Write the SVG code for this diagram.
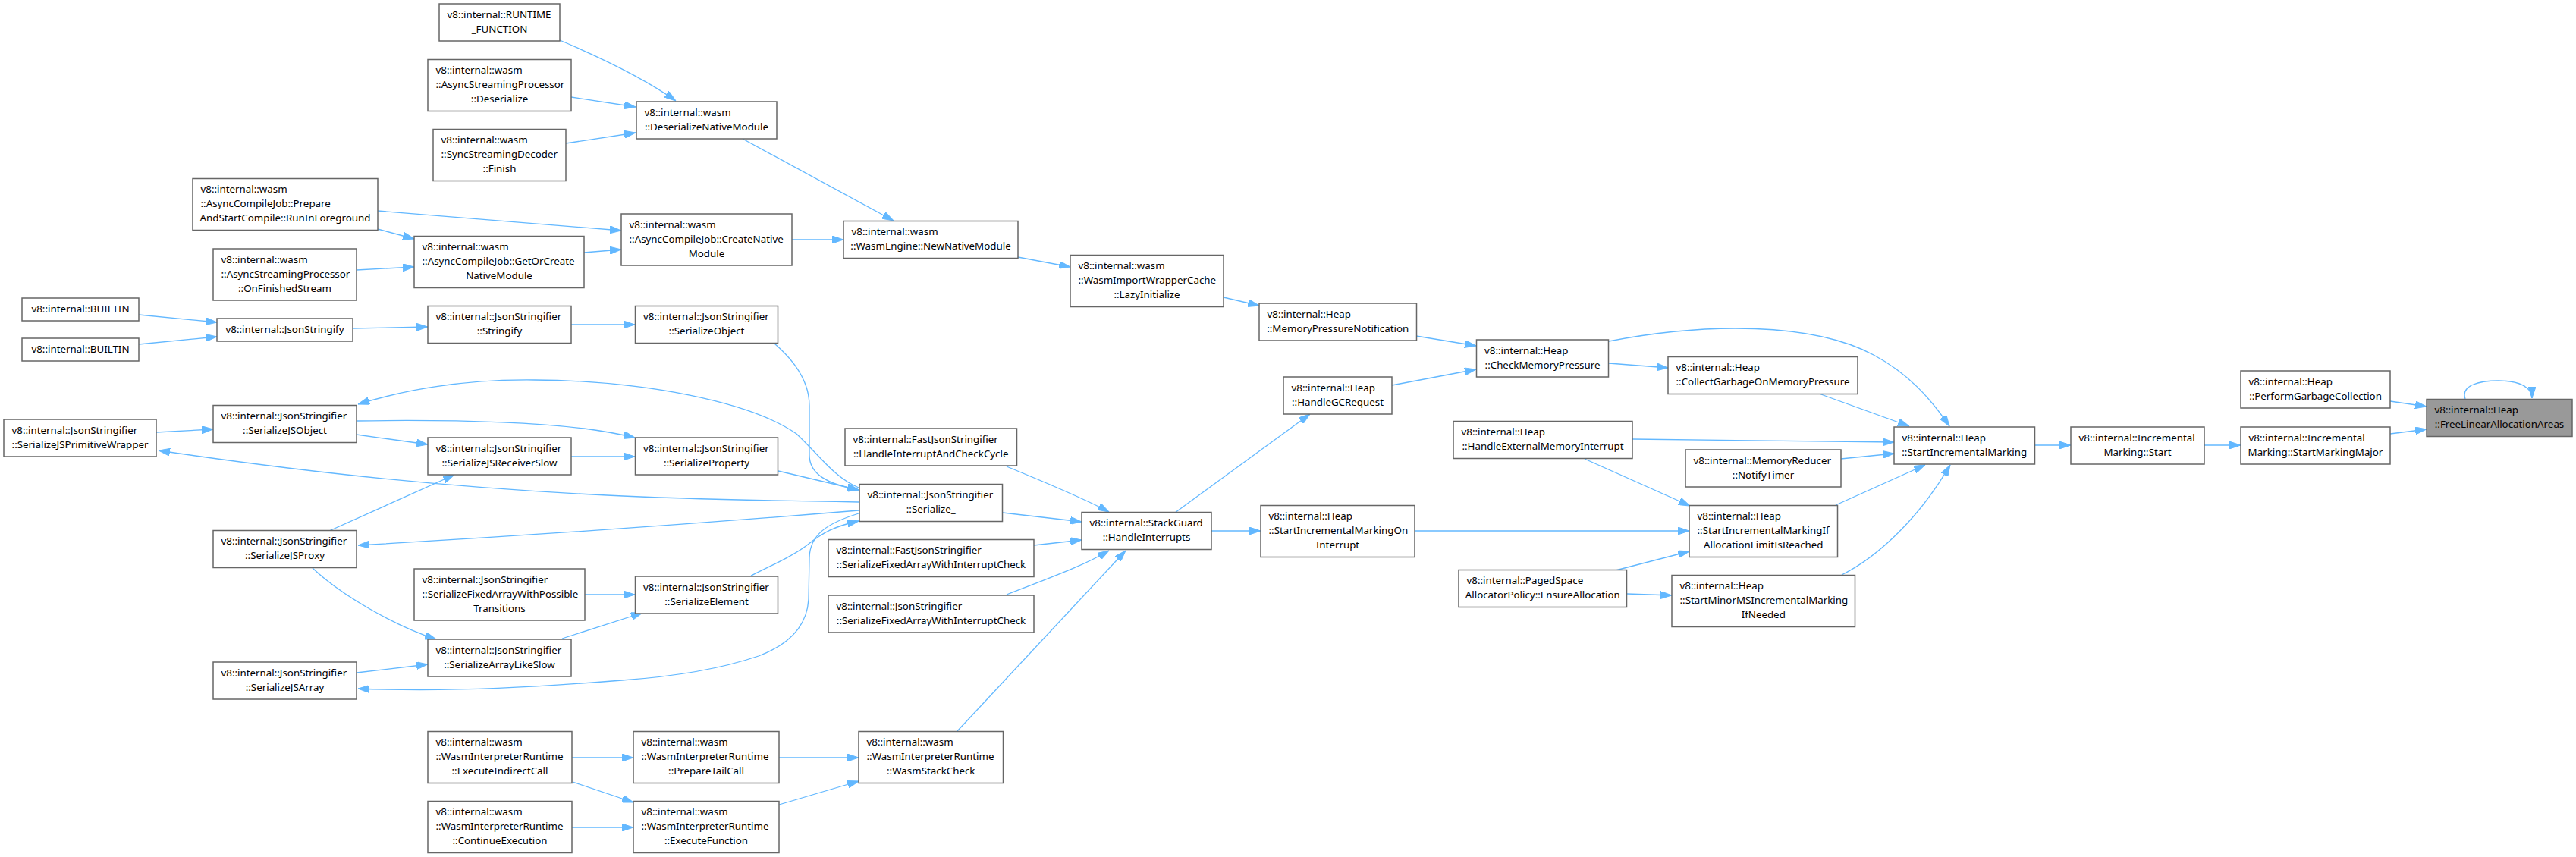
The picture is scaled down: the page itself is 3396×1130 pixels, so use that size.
<svg xmlns="http://www.w3.org/2000/svg" width="3396" height="1130" viewBox="0 0 3396 1130">
<style>
.node rect{fill:#ffffff;stroke:#666666;stroke-width:1.5}
.node.cur rect{fill:#999999}
.node text{font-family:"Noto Sans","DejaVu Sans",sans-serif;font-size:13.33px;fill:#000000}
.node text.c{text-anchor:middle}
.edges path{fill:none;stroke:#63b8ff;stroke-width:1.3;marker-end:url(#arr)}
</style>
<defs>
<marker id="arr" markerUnits="userSpaceOnUse" markerWidth="15" markerHeight="10" refX="15" refY="5" orient="auto" viewBox="0 0 15 10">
<path d="M0,0 L15,5 L0,10 z" fill="#63b8ff" stroke="#63b8ff" stroke-width="1"/>
</marker>
</defs>
<rect x="0" y="0" width="3396" height="1130" fill="#ffffff"/>
<g id="edges" class="edges">
<path d="M738,53 C785,73 845,100 891,133"/>
<path d="M753,128 L838,141"/>
<path d="M746,189 L838,175"/>
<path d="M498,278 L819,304"/>
<path d="M498,302 L546,315"/>
<path d="M470,356 L546,352"/>
<path d="M770,333 L819,329"/>
<path d="M979,183 L1178,291"/>
<path d="M1044,316 L1112,316"/>
<path d="M1342,339 L1411,352"/>
<path d="M1613,392 L1660,403"/>
<path d="M183,415 L286,425"/>
<path d="M183,454 L286,444"/>
<path d="M465,433 L564,431"/>
<path d="M753,428 L837,428"/>
<path d="M1021,453 C1050,478 1067,505 1067,535 L1067,600 C1067,625 1090,638 1132,646"/>
<path d="M470,573 L564,586"/>
<path d="M470,555 C600,553 700,557 770,565 C800,569 820,573 837,577"/>
<path d="M206,570 L281,566"/>
<path d="M753,602 L837,602"/>
<path d="M1026,621 L1132,646"/>
<path d="M434,700 L599,626"/>
<path d="M412,749 C450,785 520,825 575,843"/>
<path d="M470,887 L564,876"/>
<path d="M771,784 L837,784"/>
<path d="M741,842 L847,808"/>
<path d="M990,759 C1025,742 1050,730 1065,718 C1085,702 1100,694 1132,687"/>
<path d="M1132,643 C1100,630 1080,600 1050,572 C990,530 850,502 705,501 C620,500 540,512 472,533"/>
<path d="M1132,662 C1000,660 880,657 800,653 C600,643 420,625 209,594"/>
<path d="M1132,673 C950,688 700,706 472,719"/>
<path d="M1132,677 C1090,690 1068,705 1067,735 L1066,790 C1064,825 1040,850 1000,865 C950,882 890,892 820,897 C720,905 600,913 472,908"/>
<path d="M1322,676 L1426,688"/>
<path d="M1327,615 C1375,635 1425,655 1462,675"/>
<path d="M1363,719 L1426,712"/>
<path d="M1327,784 C1375,765 1425,748 1462,726"/>
<path d="M1262,964 L1484,726"/>
<path d="M1027,999 L1132,999"/>
<path d="M1027,1061 L1132,1030"/>
<path d="M754,999 L835,999"/>
<path d="M755,1031 L835,1058"/>
<path d="M754,1091 L835,1091"/>
<path d="M1597,700 L1662,700"/>
<path d="M1549,676 L1727,546"/>
<path d="M1867,443 L1946,456"/>
<path d="M1835,508 L1946,487"/>
<path d="M2121,479 L2199,485"/>
<path d="M2121,450 C2250,425 2390,425 2470,468 C2515,492 2545,525 2570,562"/>
<path d="M2398,519 L2517,562"/>
<path d="M2152,579 L2497,583"/>
<path d="M2427,605 L2497,598"/>
<path d="M2089,605 L2228,667"/>
<path d="M1865,700 L2227,700"/>
<path d="M2130,752 L2227,727"/>
<path d="M2145,783 L2204,785"/>
<path d="M2420,666 L2538,613"/>
<path d="M2428,758 C2478,733 2532,680 2571,613"/>
<path d="M2683,587 L2730,587"/>
<path d="M2906,587 L2954,587"/>
<path d="M3151,572 L3199,566"/>
<path d="M3151,529 L3199,536"/>
<path d="M3250,526 C3244,508 3268,502 3294,502 C3320,502 3338,510 3338,525"/>
</g>
<g id="n_runtime" class="node"><rect x="579" y="5" width="159" height="49"/><text x="589.5" y="23.5">v8::internal::RUNTIME</text><text class="c" x="658.5" y="42.5">_FUNCTION</text></g>
<g id="n_aspdeser" class="node"><rect x="564" y="78.5" width="189" height="68"/><text x="574.5" y="97">v8::internal::wasm</text><text x="574.5" y="116">::AsyncStreamingProcessor</text><text class="c" x="658.5" y="135">::Deserialize</text></g>
<g id="n_ssdfinish" class="node"><rect x="571" y="170.5" width="175" height="68"/><text x="581.5" y="189">v8::internal::wasm</text><text x="581.5" y="208">::SyncStreamingDecoder</text><text class="c" x="658.5" y="227">::Finish</text></g>
<g id="n_prepare" class="node"><rect x="254" y="235.5" width="244" height="68"/><text x="264.5" y="254">v8::internal::wasm</text><text x="264.5" y="273">::AsyncCompileJob::Prepare</text><text class="c" x="376" y="292">AndStartCompile::RunInForeground</text></g>
<g id="n_onfinished" class="node"><rect x="281" y="328" width="189" height="68"/><text x="291.5" y="346.5">v8::internal::wasm</text><text x="291.5" y="365.5">::AsyncStreamingProcessor</text><text class="c" x="375.5" y="384.5">::OnFinishedStream</text></g>
<g id="n_getorcreate" class="node"><rect x="546" y="311.5" width="224" height="68"/><text x="556.5" y="330">v8::internal::wasm</text><text x="556.5" y="349">::AsyncCompileJob::GetOrCreate</text><text class="c" x="658" y="368">NativeModule</text></g>
<g id="n_builtin1" class="node"><rect x="29" y="393" width="154" height="30"/><text class="c" x="106" y="411.5">v8::internal::BUILTIN</text></g>
<g id="n_builtin2" class="node"><rect x="29" y="446" width="154" height="30"/><text class="c" x="106" y="464.5">v8::internal::BUILTIN</text></g>
<g id="n_jsonstringify" class="node"><rect x="286" y="420" width="179" height="30"/><text class="c" x="375.5" y="438.5">v8::internal::JsonStringify</text></g>
<g id="n_stringify" class="node"><rect x="564" y="403.5" width="189" height="49"/><text x="574.5" y="422">v8::internal::JsonStringifier</text><text class="c" x="658.5" y="441">::Stringify</text></g>
<g id="n_primwrap" class="node"><rect x="5" y="553" width="201" height="49"/><text x="15.5" y="571.5">v8::internal::JsonStringifier</text><text class="c" x="105.5" y="590.5">::SerializeJSPrimitiveWrapper</text></g>
<g id="n_jsobject" class="node"><rect x="281" y="534.5" width="189" height="49"/><text x="291.5" y="553">v8::internal::JsonStringifier</text><text class="c" x="375.5" y="572">::SerializeJSObject</text></g>
<g id="n_recvslow" class="node"><rect x="564" y="577" width="189" height="49"/><text x="574.5" y="595.5">v8::internal::JsonStringifier</text><text class="c" x="658.5" y="614.5">::SerializeJSReceiverSlow</text></g>
<g id="n_jsproxy" class="node"><rect x="281" y="699.5" width="189" height="49"/><text x="291.5" y="718">v8::internal::JsonStringifier</text><text class="c" x="375.5" y="737">::SerializeJSProxy</text></g>
<g id="n_fixedposs" class="node"><rect x="546" y="750" width="225" height="68"/><text x="556.5" y="768.5">v8::internal::JsonStringifier</text><text x="556.5" y="787.5">::SerializeFixedArrayWithPossible</text><text class="c" x="658.5" y="806.5">Transitions</text></g>
<g id="n_arraylike" class="node"><rect x="564" y="843" width="189" height="49"/><text x="574.5" y="861.5">v8::internal::JsonStringifier</text><text class="c" x="658.5" y="880.5">::SerializeArrayLikeSlow</text></g>
<g id="n_jsarray" class="node"><rect x="281" y="873" width="189" height="49"/><text x="291.5" y="891.5">v8::internal::JsonStringifier</text><text class="c" x="375.5" y="910.5">::SerializeJSArray</text></g>
<g id="n_execindirect" class="node"><rect x="564" y="964.5" width="190" height="68"/><text x="574.5" y="983">v8::internal::wasm</text><text x="574.5" y="1002">::WasmInterpreterRuntime</text><text class="c" x="659" y="1021">::ExecuteIndirectCall</text></g>
<g id="n_continueexec" class="node"><rect x="564" y="1056.5" width="190" height="68"/><text x="574.5" y="1075">v8::internal::wasm</text><text x="574.5" y="1094">::WasmInterpreterRuntime</text><text class="c" x="659" y="1113">::ContinueExecution</text></g>
<g id="n_dnm" class="node"><rect x="839" y="134" width="185" height="49"/><text x="849.5" y="152.5">v8::internal::wasm</text><text class="c" x="931.5" y="171.5">::DeserializeNativeModule</text></g>
<g id="n_createnative" class="node"><rect x="819" y="282" width="225" height="68"/><text x="829.5" y="300.5">v8::internal::wasm</text><text x="829.5" y="319.5">::AsyncCompileJob::CreateNative</text><text class="c" x="931.5" y="338.5">Module</text></g>
<g id="n_serobject" class="node"><rect x="837.5" y="403.5" width="188" height="49"/><text x="848" y="422">v8::internal::JsonStringifier</text><text class="c" x="931.5" y="441">::SerializeObject</text></g>
<g id="n_serprop" class="node"><rect x="837.5" y="577" width="188" height="49"/><text x="848" y="595.5">v8::internal::JsonStringifier</text><text class="c" x="931.5" y="614.5">::SerializeProperty</text></g>
<g id="n_serelem" class="node"><rect x="837.5" y="760" width="188" height="49"/><text x="848" y="778.5">v8::internal::JsonStringifier</text><text class="c" x="931.5" y="797.5">::SerializeElement</text></g>
<g id="n_preparetail" class="node"><rect x="835" y="964.5" width="192" height="68"/><text x="845.5" y="983">v8::internal::wasm</text><text x="845.5" y="1002">::WasmInterpreterRuntime</text><text class="c" x="931" y="1021">::PrepareTailCall</text></g>
<g id="n_execfunc" class="node"><rect x="835" y="1056.5" width="192" height="68"/><text x="845.5" y="1075">v8::internal::wasm</text><text x="845.5" y="1094">::WasmInterpreterRuntime</text><text class="c" x="931" y="1113">::ExecuteFunction</text></g>
<g id="n_newnative" class="node"><rect x="1112" y="291.5" width="230" height="49"/><text x="1122.5" y="310">v8::internal::wasm</text><text class="c" x="1227" y="329">::WasmEngine::NewNativeModule</text></g>
<g id="n_handleintcheck" class="node"><rect x="1114" y="565" width="226.5" height="49"/><text x="1124.5" y="583.5">v8::internal::FastJsonStringifier</text><text class="c" x="1227.25" y="602.5">::HandleInterruptAndCheckCycle</text></g>
<g id="n_serialize_" class="node"><rect x="1133" y="638.5" width="188.5" height="49"/><text x="1143.5" y="657">v8::internal::JsonStringifier</text><text class="c" x="1227.25" y="676">::Serialize_</text></g>
<g id="n_fastsfawic" class="node"><rect x="1092" y="711.5" width="271" height="49"/><text x="1102.5" y="730">v8::internal::FastJsonStringifier</text><text class="c" x="1227.5" y="749">::SerializeFixedArrayWithInterruptCheck</text></g>
<g id="n_jsfawic" class="node"><rect x="1092" y="785" width="271" height="49"/><text x="1102.5" y="803.5">v8::internal::JsonStringifier</text><text class="c" x="1227.5" y="822.5">::SerializeFixedArrayWithInterruptCheck</text></g>
<g id="n_wasmstack" class="node"><rect x="1132" y="964.5" width="190.5" height="68"/><text x="1142.5" y="983">v8::internal::wasm</text><text x="1142.5" y="1002">::WasmInterpreterRuntime</text><text class="c" x="1227.25" y="1021">::WasmStackCheck</text></g>
<g id="n_lazyinit" class="node"><rect x="1411" y="336.5" width="202" height="68"/><text x="1421.5" y="355">v8::internal::wasm</text><text x="1421.5" y="374">::WasmImportWrapperCache</text><text class="c" x="1512" y="393">::LazyInitialize</text></g>
<g id="n_handleint" class="node"><rect x="1426" y="675.5" width="171" height="49"/><text x="1436.5" y="694">v8::internal::StackGuard</text><text class="c" x="1511.5" y="713">::HandleInterrupts</text></g>
<g id="n_mpn" class="node"><rect x="1660" y="400" width="207.5" height="49"/><text x="1670.5" y="418.5">v8::internal::Heap</text><text class="c" x="1763.75" y="437.5">::MemoryPressureNotification</text></g>
<g id="n_handlegc" class="node"><rect x="1692" y="497" width="143" height="49"/><text x="1702.5" y="515.5">v8::internal::Heap</text><text class="c" x="1763.5" y="534.5">::HandleGCRequest</text></g>
<g id="n_simoninterrupt" class="node"><rect x="1662" y="666.5" width="203" height="68"/><text x="1672.5" y="685">v8::internal::Heap</text><text x="1672.5" y="704">::StartIncrementalMarkingOn</text><text class="c" x="1763.5" y="723">Interrupt</text></g>
<g id="n_checkmem" class="node"><rect x="1946.5" y="448" width="174" height="49"/><text x="1957" y="466.5">v8::internal::Heap</text><text class="c" x="2033.5" y="485.5">::CheckMemoryPressure</text></g>
<g id="n_hemi" class="node"><rect x="1916" y="555.5" width="236" height="49"/><text x="1926.5" y="574">v8::internal::Heap</text><text class="c" x="2034" y="593">::HandleExternalMemoryInterrupt</text></g>
<g id="n_ensurealloc" class="node"><rect x="1923" y="751.5" width="221.5" height="49"/><text x="1933.5" y="770">v8::internal::PagedSpace</text><text class="c" x="2033.75" y="789">AllocatorPolicy::EnsureAllocation</text></g>
<g id="n_collectgarbage" class="node"><rect x="2199" y="470.5" width="250" height="49"/><text x="2209.5" y="489">v8::internal::Heap</text><text class="c" x="2324" y="508">::CollectGarbageOnMemoryPressure</text></g>
<g id="n_notifytimer" class="node"><rect x="2222" y="593" width="205" height="49"/><text x="2232.5" y="611.5">v8::internal::MemoryReducer</text><text class="c" x="2324.5" y="630.5">::NotifyTimer</text></g>
<g id="n_simifalloc" class="node"><rect x="2227" y="666.5" width="195.5" height="68"/><text x="2237.5" y="685">v8::internal::Heap</text><text x="2237.5" y="704">::StartIncrementalMarkingIf</text><text class="c" x="2324.75" y="723">AllocationLimitIsReached</text></g>
<g id="n_startminorms" class="node"><rect x="2204" y="758.5" width="241.5" height="68"/><text x="2214.5" y="777">v8::internal::Heap</text><text x="2214.5" y="796">::StartMinorMSIncrementalMarking</text><text class="c" x="2324.75" y="815">IfNeeded</text></g>
<g id="n_startim" class="node"><rect x="2497" y="563" width="185.5" height="49"/><text x="2507.5" y="581.5">v8::internal::Heap</text><text class="c" x="2589.75" y="600.5">::StartIncrementalMarking</text></g>
<g id="n_imstart" class="node"><rect x="2730" y="563" width="176" height="49"/><text x="2740.5" y="581.5">v8::internal::Incremental</text><text class="c" x="2818" y="600.5">Marking::Start</text></g>
<g id="n_markingmajor" class="node"><rect x="2954" y="563" width="197" height="49"/><text x="2964.5" y="581.5">v8::internal::Incremental</text><text class="c" x="3052.5" y="600.5">Marking::StartMarkingMajor</text></g>
<g id="n_performgc" class="node"><rect x="2954" y="489" width="197" height="49"/><text x="2964.5" y="507.5">v8::internal::Heap</text><text class="c" x="3052.5" y="526.5">::PerformGarbageCollection</text></g>
<g id="n_flaa" class="node cur"><rect x="3199" y="526.5" width="192" height="49"/><text x="3209.5" y="545">v8::internal::Heap</text><text class="c" x="3295" y="564">::FreeLinearAllocationAreas</text></g>
</svg>
